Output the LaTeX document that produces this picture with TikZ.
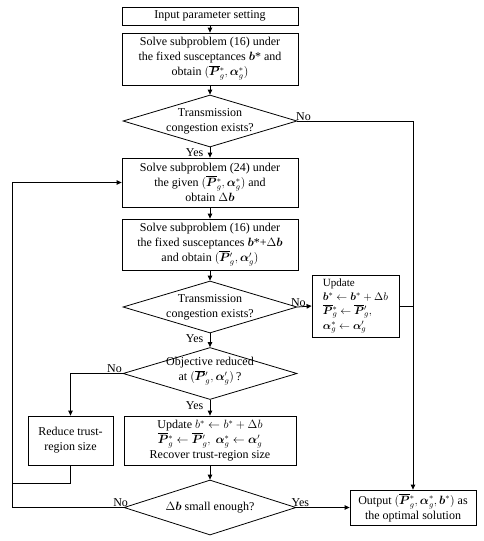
\documentclass[tikz,border=0pt]{standalone}
\usepackage{amsmath,bm}
\usepackage{fontspec}
\setmainfont{Liberation Serif}
\usetikzlibrary{arrows.meta,shapes.geometric}
\definecolor{ink}{HTML}{000000}
\newcommand{\Pg}[1]{\overline{\bm{P}}{}^{#1}_{g}}
\newcommand{\ag}[1]{\bm{\alpha}^{#1}_{g}}

\begin{document}
\begin{tikzpicture}[
  x=1pt, y=-1pt,
  font=\fontsize{12}{15}\selectfont\color{ink},
  proc/.style={draw=ink, line width=0.8pt, align=center, inner sep=1pt},
  dec/.style={draw=ink, line width=0.8pt, diamond, inner sep=0pt,
              minimum width=174pt, minimum height=52pt},
  dtxt/.style={align=center, inner sep=0pt},
  flow/.style={-{Triangle[length=5pt,width=4.5pt]}, line width=0.8pt, draw=ink},
  wire/.style={line width=0.8pt, draw=ink},
  lab/.style={inner sep=0.5pt},
]
\useasboundingbox (0,0) rectangle (484,541);

% ---- main column ------------------------------------------------------------
\node[proc, minimum width=176pt, minimum height=18pt] (inp) at (210,16)
  {Input parameter setting};
\node[proc, minimum width=176pt, minimum height=52pt] (sub1) at (210,59)
  {Solve subproblem (16) under\\
   the fixed susceptances $\bm{b}$* and\\
   obtain $(\Pg{*},\ag{*})$};
\node[dec] (cong1) at (210,121) {};
\node[dtxt] (cong1t) at (cong1) {Transmission\\congestion exists?};
\node[proc, minimum width=176pt, minimum height=49pt] (sub2) at (210,182.5)
  {Solve subproblem (24) under\\
   the given $(\Pg{*},\ag{*})$\ and\\
   obtain $\Delta\bm{b}$};
\node[proc, minimum width=176pt, minimum height=51pt] (sub3) at (210,244.5)
  {Solve subproblem (16) under\\
   the fixed susceptances $\bm{b}$*+$\Delta\bm{b}$\\
   and obtain $(\Pg{\prime},\ag{\prime})$};
\node[dec] (cong2) at (210,307) {};
\node[dtxt] (cong2t) at (cong2) {Transmission\\congestion exists?};
\node[dec] (obj) at (210,373.5) {};
\node[dtxt] (objt) at ([yshift=2pt]obj.center) {Objective reduced\\at $(\Pg{\prime},\ag{\prime})$\,?};
\node[proc, minimum width=172pt, minimum height=49pt] (upd2) at (210,440.5)
  {Update\ $b^{*}\leftarrow b^{*}+\Delta b$\\
   $\Pg{*}\leftarrow\Pg{\prime},\ \ag{*}\leftarrow\ag{\prime}$\\
   Recover trust-region size};
\node[dec, minimum width=172pt, minimum height=55pt] (small) at (210,507.5) {};
\node[dtxt] (smallt) at (small) {$\Delta\bm{b}$ small enough?};

% ---- side boxes -------------------------------------------------------------
\node[proc, minimum width=87pt, minimum height=62pt, align=left,
      inner sep=1.5pt, font=\fontsize{11}{14}\selectfont] (upd1) at (355.5,306)
  {Update\\
   $\bm{b}^{*}\leftarrow\bm{b}^{*}+\Delta b$\\
   $\Pg{*}\leftarrow\Pg{\prime},$\\[1pt]
   $\ag{*}\leftarrow\ag{\prime}$};
\node[proc, minimum width=85pt, minimum height=49pt] (red) at (70.5,440.5)
  {Reduce trust-\\region size};
\node[proc, minimum width=126pt, minimum height=35pt] (out) at (413,507.5)
  {Output $(\Pg{*},\ag{*},\bm{b}^{*})$ as\\the optimal solution};

\coordinate (rgt) at (413,121);
\coordinate (lft) at (12,507.5);
\coordinate (lup) at (12,182.5);
\coordinate (rjoin) at (413,306);

% ---- connectors -------------------------------------------------------------
\draw[flow] (inp) -- (sub1);
\draw[flow] (sub1) -- (cong1);
\draw[flow] (cong1) -- (sub2);
\draw[flow] (cong1.east) -- (rgt) -- (out.north);
\draw[flow] (sub2) -- (sub3);
\draw[flow] (sub3) -- (cong2);
\draw[flow] (cong2.east) -- (upd1.west);
\draw[wire] (upd1.east) -- (rjoin);
\draw[flow] (cong2) -- (obj);
\draw[flow] (obj.west) -| (red.north);
\draw[flow] (obj) -- (upd2);
\draw[flow] (upd2) -- (small);
\draw[wire] (red.south) |- (12,483);
\draw[flow] (small.west) -- (lft) -- (lup) -- (sub2.west);
\draw[flow] (small.east) -- (out.west);

% ---- branch labels ----------------------------------------------------------
\node[lab, anchor=south west] (no1) at ([xshift=-2pt]cong1.east) {No};
\node[lab, anchor=north east] (yes1) at ([xshift=-6pt,yshift=-1pt]cong1.south) {Yes};
\node[lab, anchor=south] (no2) at ([xshift=1pt]cong2.east) {No};
\node[lab, anchor=north east] (yes2) at ([xshift=-6pt,yshift=-1pt]cong2.south) {Yes};
\node[lab, anchor=south east] (no3) at (obj.west) {No};
\node[lab, anchor=north east] (yes3) at ([xshift=-6pt,yshift=-1pt]obj.south) {Yes};
\node[lab, anchor=south] (no4) at ([xshift=-3pt]small.west) {No};
\node[lab, anchor=south] (yes4) at ([xshift=4pt]small.east) {Yes};

\end{tikzpicture}
\end{document}
